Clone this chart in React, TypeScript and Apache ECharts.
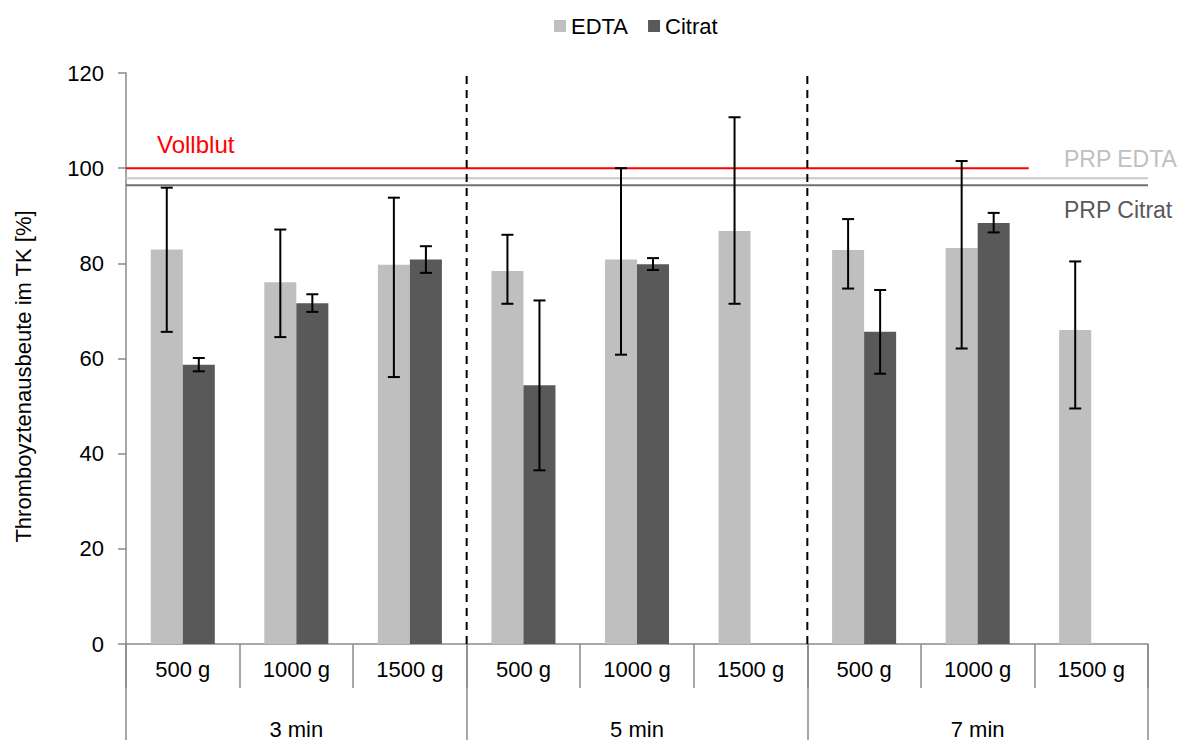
import { useEffect, useRef } from 'react';
import * as echarts from 'echarts';

// ---- data ----
const timeGroups = ['3 min', '5 min', '7 min'];
const speeds = ['500 g', '1000 g', '1500 g'];
const categories = timeGroups.flatMap(() => speeds);

const edta = [82.9, 76.0, 79.7, 78.4, 80.8, 86.8, 82.8, 83.2, 66.0];
const edtaLow = [65.6, 64.5, 56.1, 71.5, 60.8, 71.5, 74.7, 62.1, 49.5];
const edtaHigh = [95.9, 87.1, 93.8, 86.0, 100.0, 110.7, 89.3, 101.5, 80.4];

const citrat = [58.7, 71.6, 80.8, 54.4, 79.8, 0, 65.6, 88.5, 0];
const citratLow = [57.3, 69.8, 78.0, 36.5, 78.6, null, 56.8, 86.5, null];
const citratHigh = [60.1, 73.5, 83.6, 72.2, 81.1, null, 74.4, 90.6, null];

const vollblut = 100;
const vollblutEnd = 7.95; // in category units
const prpEdta = 97.9;
const prpCitrat = 96.4;
const groupBorders = [3, 6];

const yTicks = { min: 0, max: 120, interval: 20 };

const FONT = '"Liberation Sans", Arial, Helvetica, sans-serif';
const CAT_GAP = 0.436;

function errData(lo: (number | null)[], hi: (number | null)[]) {
  const out: number[][] = [];
  lo.forEach((l, i) => {
    const h = hi[i];
    if (l != null && h != null) out.push([i, l, h]);
  });
  return out;
}

function makeErrRender(side: number) {
  return (_params: any, api: any) => {
    const i = api.value(0);
    const lo = api.value(1);
    const hi = api.value(2);
    const band = api.size([1, 0])[0];
    const barW = (band * (1 - CAT_GAP)) / 2;
    const pLo = api.coord([i, lo]);
    const pHi = api.coord([i, hi]);
    const x = pLo[0] + (side * barW) / 2;
    const cap = 6;
    const st = { stroke: '#000', lineWidth: 2 };
    return {
      type: 'group',
      children: [
        { type: 'line', shape: { x1: x, y1: pLo[1], x2: x, y2: pHi[1] }, style: st },
        { type: 'line', shape: { x1: x - cap, y1: pHi[1], x2: x + cap, y2: pHi[1] }, style: st },
        { type: 'line', shape: { x1: x - cap, y1: pLo[1], x2: x + cap, y2: pLo[1] }, style: st },
      ],
    };
  };
}

function refLine(name: string, data: number[][], color: string, width: number, type: any = 'solid') {
  return {
    name,
    type: 'line',
    xAxisIndex: 2,
    yAxisIndex: 0,
    data,
    showSymbol: false,
    symbol: 'none',
    silent: true,
    z: 5,
    lineStyle: { color, width, type },
  };
}

export default function App() {
  const ref = useRef<HTMLDivElement>(null);

  useEffect(() => {
    if (!ref.current) return;
    const chart = echarts.init(ref.current, undefined, { renderer: 'svg' });
    const axisGray = '#8a8a8a';
    const option: any = {
      animation: false,
      textStyle: { fontFamily: FONT },
      legend: {
        data: ['EDTA', 'Citrat'],
        top: 10,
        left: 549,
        icon: 'rect',
        itemWidth: 12,
        itemHeight: 12,
        itemGap: 20,
        textStyle: { fontSize: 22, color: '#000', fontFamily: FONT },
      },
      grid: { left: 126, right: 41, top: 73, bottom: 94, containLabel: false },
      xAxis: [
        {
          type: 'category',
          data: categories,
          position: 'bottom',
          axisLine: { show: true, lineStyle: { color: axisGray, width: 1.5 } },
          axisTick: { show: true, interval: 0, length: 44, lineStyle: { color: axisGray, width: 1.5 } },
          axisLabel: { interval: 0, margin: 14, fontSize: 22, color: '#000', fontFamily: FONT },
          splitLine: { show: false },
        },
        {
          type: 'category',
          data: timeGroups,
          position: 'bottom',
          axisLine: { show: false },
          axisTick: { show: true, interval: 0, length: 100, lineStyle: { color: axisGray, width: 1.5 } },
          axisLabel: { interval: 0, margin: 74, fontSize: 22, color: '#000', fontFamily: FONT },
          splitLine: { show: false },
        },
        {
          type: 'value',
          min: 0,
          max: categories.length,
          show: false,
        },
      ],
      yAxis: {
        type: 'value',
        min: yTicks.min,
        max: yTicks.max,
        interval: yTicks.interval,
        name: 'Thromboyztenausbeute im TK [%]',
        nameLocation: 'middle',
        nameGap: 92,
        nameTextStyle: { fontSize: 22, color: '#000', fontFamily: FONT, padding: [0, 36, 0, 0] },
        axisLine: { show: true, lineStyle: { color: axisGray, width: 1.5 } },
        axisTick: { show: true, length: 8, lineStyle: { color: axisGray, width: 1.5 } },
        axisLabel: { margin: 22, fontSize: 22, color: '#000', fontFamily: FONT },
        splitLine: { show: false },
      },
      series: [
        {
          name: 'EDTA',
          type: 'bar',
          data: edta,
          barGap: '0%',
          barCategoryGap: CAT_GAP * 100 + '%',
          itemStyle: { color: '#bfbfbf' },
          z: 2,
        },
        {
          name: 'Citrat',
          type: 'bar',
          data: citrat,
          barGap: '0%',
          barCategoryGap: CAT_GAP * 100 + '%',
          itemStyle: { color: '#595959' },
          z: 2,
        },
        refLine('PRP EDTA', [[0, prpEdta], [categories.length, prpEdta]], '#c8c8c8', 2),
        refLine('PRP Citrat', [[0, prpCitrat], [categories.length, prpCitrat]], '#707070', 2),
        refLine('Vollblut', [[0, vollblut], [vollblutEnd, vollblut]], '#ff0000', 2),
        ...groupBorders.map((b, k) =>
          refLine('border' + k, [[b, yTicks.min], [b, yTicks.max]], '#000', 2, [8, 6])
        ),
        {
          name: 'EDTA err',
          type: 'custom',
          xAxisIndex: 0,
          yAxisIndex: 0,
          renderItem: makeErrRender(-1),
          data: errData(edtaLow, edtaHigh),
          encode: { x: 0, y: [1, 2] },
          z: 10,
          silent: true,
        },
        {
          name: 'Citrat err',
          type: 'custom',
          xAxisIndex: 0,
          yAxisIndex: 0,
          renderItem: makeErrRender(1),
          data: errData(citratLow, citratHigh),
          encode: { x: 0, y: [1, 2] },
          z: 10,
          silent: true,
        },
      ],
      graphic: [
        {
          type: 'text',
          left: 157,
          top: 132,
          style: { text: 'Vollblut', fill: '#ff0000', fontSize: 24, fontFamily: FONT },
        },
        {
          type: 'text',
          left: 1064,
          top: 147,
          style: { text: 'PRP EDTA', fill: '#bfbfbf', fontSize: 23, fontFamily: FONT },
        },
        {
          type: 'text',
          left: 1064,
          top: 198,
          style: { text: 'PRP Citrat', fill: '#595959', fontSize: 23, fontFamily: FONT },
        },
      ],
    };
    chart.setOption(option);
    return () => chart.dispose();
  }, []);

  return (
    <div
      ref={ref}
      style={{ position: 'absolute', left: 0, top: 0, width: 1189, height: 740, background: '#fff' }}
    />
  );
}
